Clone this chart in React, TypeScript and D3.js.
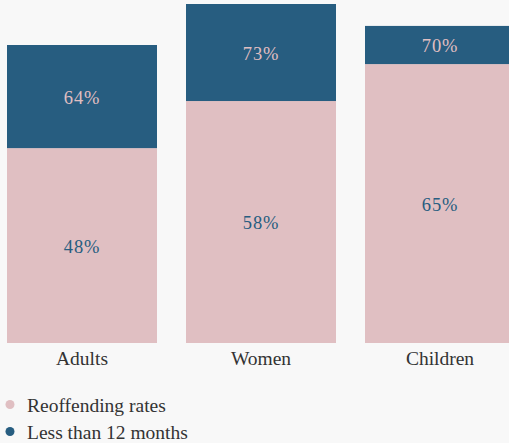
import React from "react";
import * as d3 from "d3";

const categories = ["Adults", "Women", "Children"];
// labelled values
const reoffendingLabels = [48, 58, 65];
const lessThan12Labels = [64, 73, 70];
// segment sizes as drawn in the picture (units on the bar scale)
const reoffendingBar = [48, 59.6, 68.7];
const lessThan12Bar = [25.4, 23.9, 9.4];
const legendItems = ["Reoffending rates", "Less than 12 months"];

const W = 509;
const H = 443;
const PINK = "#e0bfc2";
const BLUE = "#275d80";
const BG = "#f8f8f8";
const TEXT = "#333333";
const FONT = "'Liberation Serif', 'Times New Roman', serif";

export default function App() {
  const x = d3
    .scaleBand<string>()
    .domain(categories)
    .range([7, 515])
    .paddingInner(29 / 179)
    .paddingOuter(0);
  const totalMax = d3.max(categories.map((_, i) => reoffendingBar[i] + lessThan12Bar[i])) as number;
  const y = d3.scaleLinear().domain([0, totalMax]).range([343, 4]);

  const stack = d3
    .stack<any>()
    .keys(["reoffending", "less"])(
      categories.map((c, i) => ({ cat: c, reoffending: reoffendingBar[i], less: lessThan12Bar[i] }))
    );
  const colors = [PINK, BLUE];
  const labelColors = [BLUE, PINK];
  const labels = [reoffendingLabels, lessThan12Labels];

  return (
    <div style={{ position: "fixed", left: 0, top: 0, width: W, height: H, background: BG }}>
      <svg width={W} height={H} style={{ display: "block", background: BG }}>
        {stack.map((layer, li) => (
          <g key={li}>
            {layer.map((d, i) => {
              const x0 = x(categories[i]) as number;
              const y0 = y(d[1]);
              const y1 = y(d[0]);
              return (
                <g key={i}>
                  <rect x={x0} y={y0} width={x.bandwidth()} height={y1 - y0} fill={colors[li]} />
                  <text
                    x={x0 + x.bandwidth() / 2}
                    y={(y0 + y1) / 2}
                    dy="0.4em"
                    textAnchor="middle"
                    style={{ fontFamily: FONT }}
                    fontSize={18.5}
                    letterSpacing={0.8}
                    fill={labelColors[li]}
                  >
                    {labels[li][i]}%
                  </text>
                </g>
              );
            })}
          </g>
        ))}
        {categories.map((c) => (
          <text
            key={c}
            x={(x(c) as number) + x.bandwidth() / 2}
            y={364.5}
            textAnchor="middle"
            style={{ fontFamily: FONT }}
            fontSize={19.5}
            fill={TEXT}
          >
            {c}
          </text>
        ))}
        {legendItems.map((t, i) => (
          <g key={t} transform={`translate(0, ${404.5 + i * 27})`}>
            <circle cx={10} cy={0} r={4.5} fill={colors[i]} />
            <text x={27} y={7} style={{ fontFamily: FONT }} fontSize={19.5} fill={TEXT}>
              {t}
            </text>
          </g>
        ))}
      </svg>
    </div>
  );
}
